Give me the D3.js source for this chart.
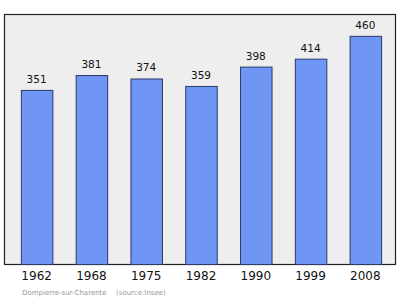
<!DOCTYPE html>
<html>
<head>
<meta charset="utf-8">
<script src="https://d3js.org/d3.v7.min.js"></script>
<style>
  body { margin: 0; background: #fff; }
  text { font-family: "DejaVu Sans", sans-serif; }
</style>
</head>
<body>
<script>
var years = ["1962", "1968", "1975", "1982", "1990", "1999", "2008"];
var population = [351, 381, 374, 359, 398, 414, 460];
var commune = "Dompierre-sur-Charente";
var source = "(source:Insee)";

var w = 400;
var h = 299;

var svg = d3.select("body")
  .append("svg")
  .attr("width", w)
  .attr("height", h);

var plotLeft = 4, plotTop = 14, plotRight = 395, plotBottom = 264;

// plot frame
svg.append("rect")
  .attr("x", plotLeft + 0.5)
  .attr("y", plotTop + 0.5)
  .attr("width", plotRight - plotLeft)
  .attr("height", plotBottom - plotTop)
  .attr("fill", "#eeeeee")
  .attr("stroke", "#222")
  .attr("stroke-width", 1.2);

var xScale = d3.scaleBand()
  .domain(years)
  .range([5, 397])
  .paddingInner(0.425)
  .paddingOuter(0.29);

var yScale = d3.scaleLinear()
  .domain([0, 500])
  .range([plotBottom, 16]);

svg.selectAll("rect.bar")
  .data(population)
  .enter().append("rect")
  .attr("class", "bar")
  .attr("x", function(d, i) { return xScale(years[i]) + 0.5; })
  .attr("width", xScale.bandwidth())
  .attr("y", function(d) { return yScale(d) + 0.5; })
  .attr("height", function(d) { return plotBottom - yScale(d); })
  .attr("fill", "#6f95f5")
  .attr("stroke", "#2b3a66")
  .attr("stroke-width", 1);

svg.selectAll("text.val")
  .data(population)
  .enter().append("text")
  .attr("class", "val")
  .attr("x", function(d, i) { return xScale(years[i]) + xScale.bandwidth() / 2; })
  .attr("y", function(d) { return yScale(d) - 7; })
  .attr("text-anchor", "middle")
  .attr("font-size", "10.5px")
  .attr("fill", "#111")
  .text(function(d) { return d; });

var xAxis = d3.axisBottom(xScale).tickSize(0).tickPadding(7);

var gx = svg.append("g")
  .attr("transform", "translate(0," + plotBottom + ")")
  .call(xAxis);
gx.select(".domain").remove();
gx.selectAll("text")
  .attr("font-size", "12px")
  .attr("font-family", "DejaVu Sans, sans-serif")
  .attr("fill", "#111");

svg.append("text")
  .attr("x", 22)
  .attr("y", 295)
  .attr("font-size", "7px")
  .attr("fill", "#999")
  .text(commune);

svg.append("text")
  .attr("x", 116)
  .attr("y", 295)
  .attr("font-size", "7px")
  .attr("fill", "#999")
  .text(source);
</script>
</body>
</html>
